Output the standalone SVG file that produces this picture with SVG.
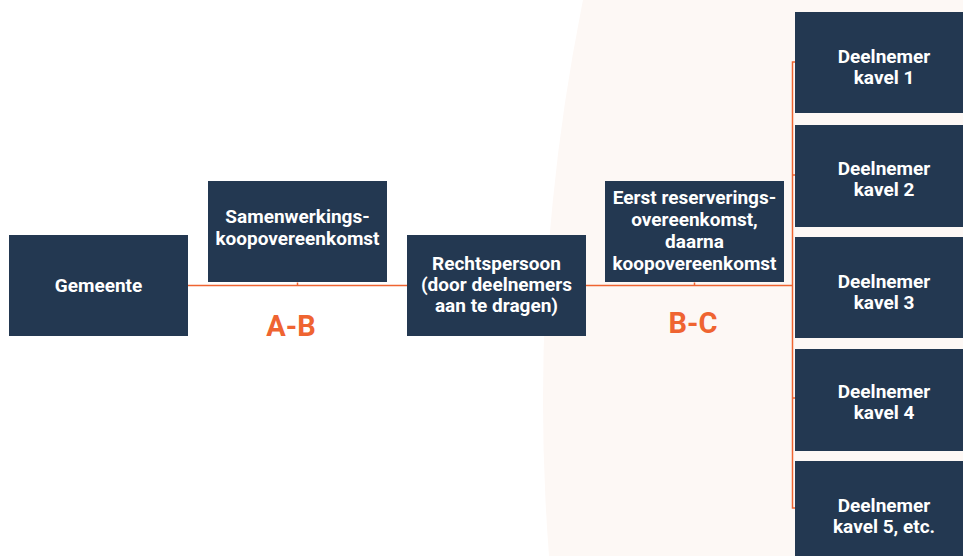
<svg xmlns="http://www.w3.org/2000/svg" width="963" height="556" viewBox="0 0 963 556">
<style>
.box{fill:#233851}
.t{font-family:Roboto,"Liberation Sans",sans-serif;font-weight:700;font-size:19px;fill:#ffffff;text-anchor:middle}
.lbl{font-family:Roboto,"Liberation Sans",sans-serif;font-weight:700;font-size:29px;fill:#ef6431;text-anchor:middle}
.c{stroke:#ef6431;stroke-width:1.5;fill:none}
</style>
<rect width="963" height="556" fill="#ffffff"/>
<circle cx="2563" cy="400" r="2020" fill="#fdf8f5"/>
<g id="connectors">
<path class="c" d="M188 285.5H792.5"/>
<path class="c" d="M297.5 282.5V285.5M694.5 282.5V285.5"/>
<path class="c" d="M795 62H792.5V508H795"/>
<path class="c" d="M792.5 175H795M792.5 398H795"/>
</g>
<g id="gemeente"><rect class="box" x="9" y="235" width="179" height="101"/><text class="t" x="98.5" y="292">Gemeente</text></g>
<g id="samenwerkings"><rect class="box" x="208" y="181" width="179" height="101"/><text class="t" x="297.5" y="223">Samenwerkings-</text><text class="t" x="297.5" y="245">koopovereenkomst</text></g>
<g id="rechtspersoon"><rect class="box" x="407" y="235" width="179" height="101"/><text class="t" x="496.5" y="270">Rechtspersoon</text><text class="t" x="496.5" y="291">(door deelnemers</text><text class="t" x="496.5" y="312">aan te dragen)</text></g>
<g id="eerst"><rect class="box" x="605" y="181" width="179" height="101"/><text class="t" x="694.5" y="204">Eerst reserverings-</text><text class="t" x="694.5" y="226">overeenkomst,</text><text class="t" x="694.5" y="248">daarna</text><text class="t" x="694.5" y="270">koopovereenkomst</text></g>
<g id="label-ab"><text class="lbl" x="291" y="336">A-B</text></g>
<g id="label-bc"><text class="lbl" x="693" y="333">B-C</text></g>
<g id="kavel1"><rect class="box" x="795" y="12" width="170" height="101"/><text class="t" x="884" y="63">Deelnemer</text><text class="t" x="884" y="84">kavel 1</text></g>
<g id="kavel2"><rect class="box" x="795" y="125" width="170" height="102"/><text class="t" x="884" y="175">Deelnemer</text><text class="t" x="884" y="196">kavel 2</text></g>
<g id="kavel3"><rect class="box" x="795" y="237" width="170" height="101"/><text class="t" x="884" y="288">Deelnemer</text><text class="t" x="884" y="309">kavel 3</text></g>
<g id="kavel4"><rect class="box" x="795" y="349" width="170" height="102"/><text class="t" x="884" y="398">Deelnemer</text><text class="t" x="884" y="419">kavel 4</text></g>
<g id="kavel5"><rect class="box" x="795" y="461" width="170" height="101"/><text class="t" x="884" y="512">Deelnemer</text><text class="t" x="884" y="533">kavel 5, etc.</text></g>
</svg>
